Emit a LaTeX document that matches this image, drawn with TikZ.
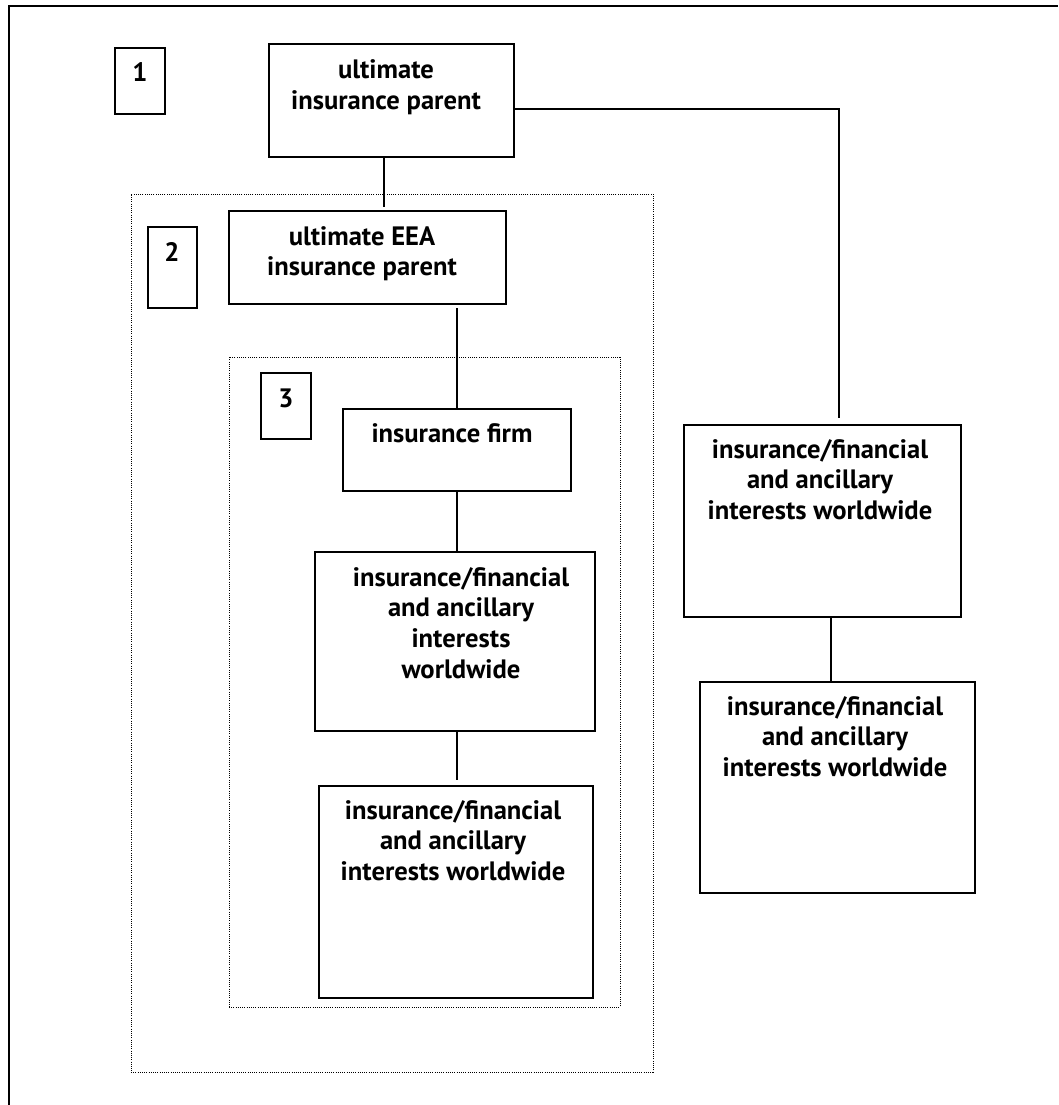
\documentclass[tikz,border=0pt]{standalone}
\usepackage{fontspec}
\setmainfont{PT Sans}
\newcommand\mylines[1]{\begin{tabular}[t]{@{}c@{}}#1\end{tabular}}
\begin{document}
\begin{tikzpicture}[x=1pt,y=-1pt,
  frm/.style={draw, line width=1.4pt, inner sep=0pt, outer sep=0pt, anchor=north west},
  grp/.style={draw, line width=0.9pt, dash pattern=on 1pt off 1.2pt, inner sep=0pt, outer sep=0pt, anchor=north west},
  txt/.style={inner sep=0pt, outer sep=0pt, anchor=base, font=\bfseries\fontsize{26.6}{30.8}\selectfont},
  link/.style={line width=1.4pt}]
\useasboundingbox (0,0) rectangle (1058,1105);
% outer frame
\draw[line width=1.5pt] (9,1105) -- (9,6) -- (1058,6);
% dotted groups
\node[grp, minimum width=522pt, minimum height=878pt] (g2) at (131,194) {};
\node[grp, minimum width=391pt, minimum height=650pt] (g3) at (229,357) {};
% level tags
\node[frm, minimum width=50pt, minimum height=66pt] (b1) at (115,48) {};
\node[txt] (t1) at (140,82) {1};
\node[frm, minimum width=49pt, minimum height=81pt] (b2) at (148,227) {};
\node[txt] (t2) at (172,261) {2};
\node[frm, minimum width=50pt, minimum height=66pt] (b3) at (261,373) {};
\node[txt] (t3) at (286,407) {3};
% boxes
\node[frm, minimum width=245pt, minimum height=113pt] (top) at (269,44) {};
\node[txt] (topT) at (386,79) {\mylines{ultimate\\insurance parent}};
\node[frm, minimum width=277pt, minimum height=93pt] (eea) at (229,211) {};
\node[txt] (eeaT) at (362,245) {\mylines{ultimate EEA\\insurance parent}};
\node[frm, minimum width=228pt, minimum height=82pt] (firm) at (343,409) {};
\node[txt] (firmT) at (452,442) {insurance firm};
\node[frm, minimum width=280pt, minimum height=179pt] (ifa) at (315,552) {};
\node[txt] (ifaT) at (461,586) {\mylines{insurance/financial\\and ancillary\\interests\\worldwide}};
\node[frm, minimum width=274pt, minimum height=212pt] (ifb) at (319,786) {};
\node[txt] (ifbT) at (453,819) {\mylines{insurance/financial\\and ancillary\\interests worldwide}};
\node[frm, minimum width=277pt, minimum height=192pt] (ra) at (684,425) {};
\node[txt] (raT) at (820,458) {\mylines{insurance/financial\\and ancillary\\interests worldwide}};
\node[frm, minimum width=275pt, minimum height=211pt] (rb) at (700,682) {};
\node[txt] (rbT) at (835,715) {\mylines{insurance/financial\\and ancillary\\interests worldwide}};
% connectors
\draw[link, shorten >=4pt] ([xshift=-7.5pt]top.south) -- ([xshift=-7.5pt]top.south |- eea.north);
\draw[link, shorten <=4pt] (firm.north |- eea.south) -- (firm.north);
\draw[link] (firm.south) -- (firm.south |- ifa.north);
\draw[link, shorten >=6pt] (firm.south |- ifa.south) -- (firm.south |- ifb.north);
\draw[link, shorten >=7pt] ([yshift=-8.5pt]top.east) -| ([xshift=16.5pt]ra.north);
\draw[link] ([xshift=8.5pt]ra.south) -- ([xshift=8.5pt]ra.south |- rb.north);
\end{tikzpicture}
\end{document}
